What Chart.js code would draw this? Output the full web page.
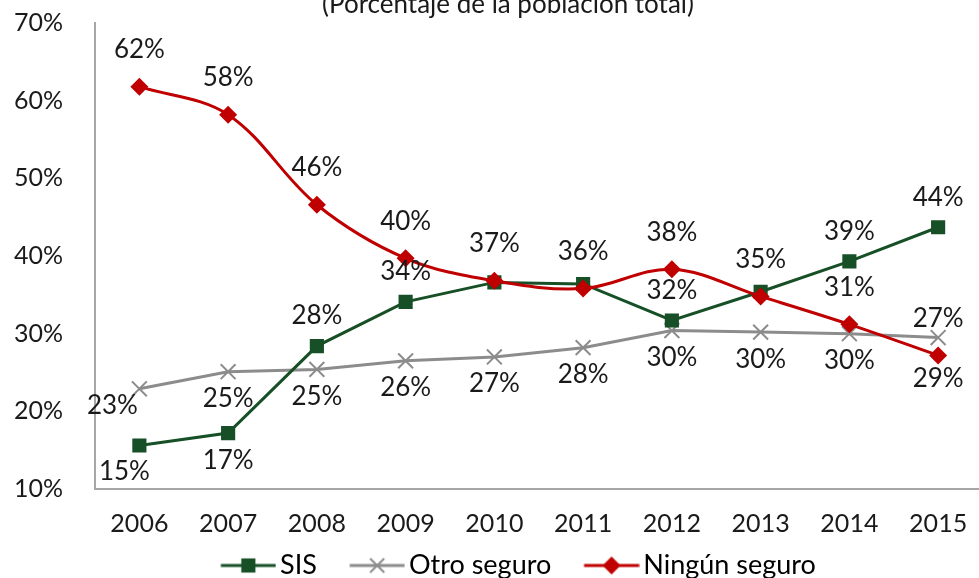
<!DOCTYPE html>
<html>
<head>
<meta charset="utf-8">
<script src="https://cdn.jsdelivr.net/npm/chart.js@4.4.1/dist/chart.umd.min.js"></script>
<style>
    html, body { margin: 0; padding: 0; background: #fff; overflow: hidden; }
    .wrapper { position: relative; width: 995px; height: 578px; }
</style>
</head>
<body>
<div class="wrapper"><canvas id="chart_main"></canvas></div>
<script>
const years = ['2006', '2007', '2008', '2009', '2010', '2011', '2012', '2013', '2014', '2015'];

const sisValues = [15.6, 17.2, 28.4, 34.1, 36.6, 36.4, 31.7, 35.4, 39.3, 43.7];
const otroValues = [22.9, 25.1, 25.4, 26.5, 27.0, 28.2, 30.4, 30.2, 30.0, 29.5];
const ningunValues = [61.8, 58.2, 46.6, 39.7, 36.8, 35.8, 38.3, 34.8, 31.2, 27.2];

// label texts as printed on the picture ('' = no label shown)
const sisLabels = ['15%', '17%', '28%', '34%', '', '', '32%', '', '39%', '44%'];
const otroLabels = ['23%', '25%', '25%', '26%', '27%', '28%', '30%', '30%', '30%', '29%'];
const ningunLabels = ['62%', '58%', '46%', '40%', '37%', '36%', '38%', '35%', '31%', '27%'];

const yTicks = [10, 20, 30, 40, 50, 60, 70];

const COLORS = {
    sis: '#174f26',
    otro: '#8c8c8c',
    ningun: '#c00000',
    text: '#1a1a1a',
    axis: '#a6a6a6'
};

const FONT = 'Lato, "Open Sans", sans-serif';

// legend geometry: line length, gap before line, gap line -> text
const LEGEND = { size: 27, padding: 8, line: 55, before: 25, after: 4 };
LEGEND.box = LEGEND.before + LEGEND.line + LEGEND.after - LEGEND.size / 2;

// where labels go relative to their point (dx, dy), per series
const labelPlacement = {
    sis: { dy: -30, below: [0, 1], belowDy: 28, nudge: { 0: [-15, -2] } },
    otro: { dy: 27, nudge: { 0: [-27, -10], 9: [0, 14] } },
    ningun: { dy: -37, nudge: {} }
};

const makeIcon = (color, style, radius, lineW) => {
    // the image is drawn centred on the legend box, so make it wide enough
    const half = Math.max(LEGEND.box / 2, LEGEND.before + LEGEND.line - LEGEND.box / 2);
    const left = half - LEGEND.box / 2;
    const c = document.createElement('canvas');
    c.width = Math.round(half * 2);
    c.height = 24;
    const ctx = c.getContext('2d');
    const x0 = left + LEGEND.before;
    ctx.strokeStyle = color;
    ctx.lineWidth = 3;
    ctx.beginPath();
    ctx.moveTo(x0, 12);
    ctx.lineTo(x0 + LEGEND.line, 12);
    ctx.stroke();
    ctx.fillStyle = color;
    ctx.lineWidth = lineW;
    Chart.helpers.drawPoint(ctx, { pointStyle: style, radius: radius, rotation: 0, borderWidth: lineW }, x0 + LEGEND.line / 2, 12);
    return c;
};

const dataLabelPlugin = {
    id: 'dataLabelPlugin',
    afterDatasetsDraw(chart) {
        const ctx = chart.ctx;
        ctx.save();
        ctx.font = `26px ${FONT}`;
        ctx.fillStyle = COLORS.text;
        ctx.textAlign = 'center';
        ctx.textBaseline = 'middle';
        chart.data.datasets.forEach((ds, di) => {
            const meta = chart.getDatasetMeta(di);
            const place = labelPlacement[ds.key];
            meta.data.forEach((pt, i) => {
                const txt = ds.labelTexts[i];
                if (!txt) return;
                let dx = 0;
                let dy = place.dy;
                if (place.below && place.below.includes(i)) dy = place.belowDy;
                if (place.nudge[i]) {
                    dx += place.nudge[i][0];
                    dy += place.nudge[i][1];
                }
                ctx.fillText(txt, pt.x + dx, pt.y + dy);
            });
        });
        ctx.restore();
    }
};

const titlePlugin = {
    id: 'titlePlugin',
    afterDraw(chart) {
        const ctx = chart.ctx;
        ctx.save();
        ctx.font = `26px ${FONT}`;
        ctx.fillStyle = COLORS.text;
        ctx.textAlign = 'center';
        ctx.textBaseline = 'alphabetic';
        ctx.fillText('(Porcentaje de la población total)', 508, 13);
        ctx.restore();
    }
};

// layout padding left only serves to centre the legend; let the y labels use the full left side
const yAxisLeftPlugin = {
    id: 'yAxisLeftPlugin',
    afterLayout(chart) {
        const y = chart.scales.y;
        y.left = 0;
        y.width = y.right;
    }
};

const icons = [
    makeIcon(COLORS.sis, 'rect', 10, 0),
    makeIcon(COLORS.otro, 'crossRot', 10, 2),
    makeIcon(COLORS.ningun, 'rectRot', 9, 0)
];

const mainChartEle = document.getElementById('chart_main');

const mainChart = new Chart(mainChartEle, {
    type: 'line',
    data: {
        labels: years,
        datasets: [{
            key: 'sis',
            label: 'SIS',
            data: sisValues,
            labelTexts: sisLabels,
            borderColor: COLORS.sis,
            backgroundColor: COLORS.sis,
            borderWidth: 3,
            pointStyle: 'rect',
            pointRadius: 10,
            pointBorderWidth: 0,
            tension: 0,
            order: 1
        }, {
            key: 'otro',
            label: 'Otro seguro',
            data: otroValues,
            labelTexts: otroLabels,
            borderColor: COLORS.otro,
            backgroundColor: COLORS.otro,
            borderWidth: 3,
            pointStyle: 'crossRot',
            pointRadius: 10.5,
            pointBorderWidth: 2,
            tension: 0,
            order: 2
        }, {
            key: 'ningun',
            label: 'Ningún seguro',
            data: ningunValues,
            labelTexts: ningunLabels,
            borderColor: COLORS.ningun,
            backgroundColor: COLORS.ningun,
            borderWidth: 3,
            pointStyle: 'rectRot',
            pointRadius: 9,
            pointBorderWidth: 0,
            tension: 0.35,
            order: 0
        }]
    },
    options: {
        responsive: true,
        maintainAspectRatio: false,
        animation: false,
        layout: {
            padding: { top: 23, left: 19, right: 2, bottom: -11 }
        },
        plugins: {
            legend: {
                display: true,
                position: 'bottom',
                labels: {
                    usePointStyle: true,
                    pointStyleWidth: LEGEND.box,
                    padding: LEGEND.padding,
                    color: COLORS.text,
                    font: { family: FONT, size: LEGEND.size },
                    generateLabels: () => ['SIS', 'Otro seguro', 'Ningún seguro'].map((t, i) => ({
                        text: t,
                        pointStyle: icons[i],
                        fillStyle: 'transparent',
                        strokeStyle: 'transparent',
                        lineWidth: 0,
                        hidden: false,
                        datasetIndex: i
                    }))
                }
            },
            tooltip: { enabled: false }
        },
        scales: {
            x: {
                offset: true,
                grid: { display: false, drawTicks: false },
                border: { display: true, color: COLORS.axis, width: 2 },
                ticks: {
                    color: COLORS.text,
                    padding: 20,
                    font: { family: FONT, size: 25 }
                },
                afterFit: (axis) => {
                    axis.height = 55;
                    axis.paddingLeft = 0;
                    axis.paddingRight = 0;
                }
            },
            y: {
                min: 10,
                max: 70,
                afterBuildTicks: (axis) => {
                    axis.ticks = yTicks.map(v => ({ value: v }));
                },
                grid: { display: false, drawTicks: false },
                border: { display: true, color: COLORS.axis, width: 2 },
                ticks: {
                    color: COLORS.text,
                    padding: 32,
                    font: { family: FONT, size: 25 },
                    callback: (v) => `${v}%`
                },
                afterFit: (axis) => {
                    axis.width = 76;
                    axis.paddingTop = 0;
                    axis.paddingBottom = 0;
                }
            }
        }
    },
    plugins: [dataLabelPlugin, titlePlugin, yAxisLeftPlugin]
});
</script>
</body>
</html>
